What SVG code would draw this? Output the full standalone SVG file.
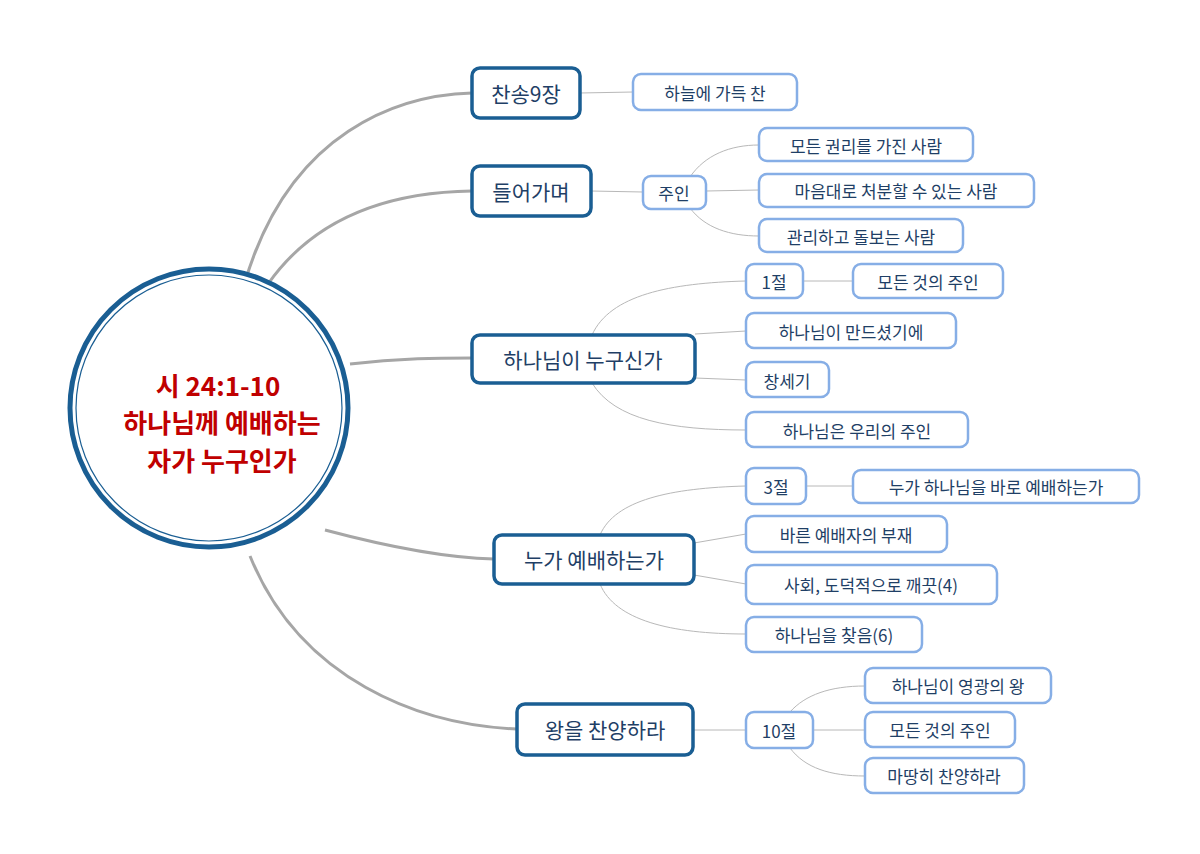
<svg xmlns="http://www.w3.org/2000/svg" width="1200" height="854" viewBox="0 0 1200 854">
<style>
text{font-family:"Noto Sans CJK KR","Liberation Sans",sans-serif;fill:#1f3f66;dominant-baseline:central;text-anchor:middle}
.l1 rect{fill:#fff;stroke:#1a5e93;stroke-width:3.5}
.l1 text{font-size:21px}
.l2 rect{fill:#fff;stroke:#86aee6;stroke-width:2.5}
.l2 text{font-size:17px}
.thick{fill:none;stroke:#a6a6a6;stroke-width:3}
.thin{fill:none;stroke:#b8b8b8;stroke-width:1}
.ct{fill:#c00000;font-size:26px;font-weight:bold}
</style>
<rect width="1200" height="854" fill="#fff"/>
<g id="connectors">
<path class="thick" d="M245,282 C290,130 400,95 472,93"/>
<path class="thick" d="M268,284 C320,210 400,192 472,191"/>
<path class="thick" d="M350,364 C400,358 440,358 472,358"/>
<path class="thick" d="M325,530 C400,550 450,558 494,559"/>
<path class="thick" d="M250,556 C300,680 420,725 517,729"/>
<path class="thin" d="M580,93 L633,92"/>
<path class="thin" d="M591,191 L643,192"/>
<path class="thin" d="M690,177 C705,155 730,145 759,145"/>
<path class="thin" d="M706,191 L759,190"/>
<path class="thin" d="M690,208 C705,228 730,236 759,236"/>
<path class="thin" d="M592,335 C610,295 670,283 746,281"/>
<path class="thin" d="M695,334 L746,331"/>
<path class="thin" d="M695,378 L746,380"/>
<path class="thin" d="M592,383 C615,420 670,430 746,430"/>
<path class="thin" d="M803,281 L853,281"/>
<path class="thin" d="M600,535 C615,500 670,488 746,486"/>
<path class="thin" d="M694,543 L746,534"/>
<path class="thin" d="M694,575 L746,584"/>
<path class="thin" d="M600,584 C615,620 670,634 746,634"/>
<path class="thin" d="M806,486 L853,486"/>
<path class="thin" d="M693,730 L746,730"/>
<path class="thin" d="M790,712 C805,695 830,686 865,686"/>
<path class="thin" d="M813,730 L865,730"/>
<path class="thin" d="M790,748 C805,768 830,776 865,776"/>
</g>
<g id="center">
<circle cx="209" cy="408" r="139" fill="#fff" stroke="#1a5e93" stroke-width="5"/>
<circle cx="209" cy="408" r="133" fill="none" stroke="#1a5e93" stroke-width="1.2"/>
<text class="ct" x="218" y="384">시 24:1-10</text>
<text class="ct" x="222" y="421">하나님께 예배하는</text>
<text class="ct" x="222" y="459">자가 누구인가</text>
</g>
<g id="n1" class="l1"><rect x="472" y="68" width="108" height="50" rx="8"/><text x="526" y="93">찬송9장</text></g>
<g id="n2" class="l1"><rect x="472" y="166" width="119" height="50" rx="8"/><text x="531" y="191">들어가며</text></g>
<g id="n3" class="l1"><rect x="472" y="335" width="223" height="48" rx="8"/><text x="583" y="359">하나님이 누구신가</text></g>
<g id="n4" class="l1"><rect x="494" y="535" width="200" height="49" rx="8"/><text x="594" y="559">누가 예배하는가</text></g>
<g id="n5" class="l1"><rect x="517" y="704" width="176" height="51" rx="8"/><text x="605" y="729">왕을 찬양하라</text></g>
<g id="n6" class="l2"><rect x="633" y="74" width="164" height="36" rx="8"/><text x="715" y="92">하늘에 가득 찬</text></g>
<g id="n7" class="l2"><rect x="643" y="176" width="63" height="33" rx="8"/><text x="674" y="192">주인</text></g>
<g id="n8" class="l2"><rect x="759" y="128" width="214" height="33" rx="8"/><text x="866" y="145">모든 권리를 가진 사람</text></g>
<g id="n9" class="l2"><rect x="759" y="174" width="275" height="33" rx="8"/><text x="896" y="190">마음대로 처분할 수 있는 사람</text></g>
<g id="n10" class="l2"><rect x="759" y="219" width="204" height="33" rx="8"/><text x="861" y="236">관리하고 돌보는 사람</text></g>
<g id="n11" class="l2"><rect x="746" y="264" width="57" height="34" rx="8"/><text x="774" y="281">1절</text></g>
<g id="n12" class="l2"><rect x="853" y="264" width="150" height="34" rx="8"/><text x="928" y="281">모든 것의 주인</text></g>
<g id="n13" class="l2"><rect x="746" y="313" width="210" height="35" rx="8"/><text x="851" y="331">하나님이 만드셨기에</text></g>
<g id="n14" class="l2"><rect x="746" y="362" width="83" height="35" rx="8"/><text x="787" y="380">창세기</text></g>
<g id="n15" class="l2"><rect x="746" y="412" width="222" height="35" rx="8"/><text x="857" y="430">하나님은 우리의 주인</text></g>
<g id="n16" class="l2"><rect x="746" y="468" width="60" height="36" rx="8"/><text x="776" y="486">3절</text></g>
<g id="n17" class="l2"><rect x="853" y="470" width="286" height="33" rx="8"/><text x="996" y="486">누가 하나님을 바로 예배하는가</text></g>
<g id="n18" class="l2"><rect x="746" y="516" width="201" height="36" rx="8"/><text x="846" y="534">바른 예배자의 부재</text></g>
<g id="n19" class="l2"><rect x="746" y="565" width="251" height="39" rx="8"/><text x="871" y="584">사회, 도덕적으로 깨끗(4)</text></g>
<g id="n20" class="l2"><rect x="746" y="617" width="176" height="35" rx="8"/><text x="834" y="634">하나님을 찾음(6)</text></g>
<g id="n21" class="l2"><rect x="746" y="712" width="67" height="36" rx="8"/><text x="779" y="730">10절</text></g>
<g id="n22" class="l2"><rect x="865" y="668" width="186" height="35" rx="8"/><text x="958" y="685">하나님이 영광의 왕</text></g>
<g id="n23" class="l2"><rect x="865" y="712" width="150" height="35" rx="8"/><text x="940" y="729">모든 것의 주인</text></g>
<g id="n24" class="l2"><rect x="865" y="758" width="159" height="35" rx="8"/><text x="944" y="775">마땅히 찬양하라</text></g>
</svg>
